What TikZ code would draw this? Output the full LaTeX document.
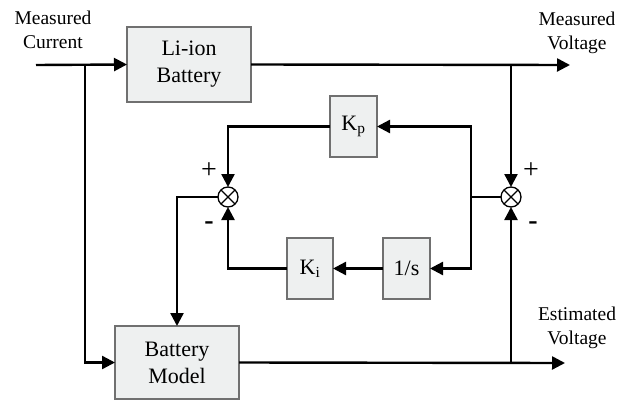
\documentclass[tikz,border=0pt]{standalone}
\usepackage{fontspec}
\setmainfont{Liberation Serif}
\usetikzlibrary{arrows.meta}
\definecolor{boxfill}{RGB}{238,240,240}
\definecolor{boxline}{RGB}{112,112,112}
\tikzset{
  blk/.style={draw=boxline, line width=1.4pt, fill=boxfill, inner sep=0pt, outer sep=0pt, align=center, font=\fontsize{22}{27}\selectfont},
  sumnode/.style={circle, draw=black, line width=1.3pt, fill=white, minimum size=20pt, inner sep=0pt, outer sep=0pt},
  wire/.style={line width=2.4pt, draw=black},
  arr/.style={wire, -{Triangle[length=13pt,width=13pt]}},
  lbl/.style={align=center, inner sep=0pt, font=\fontsize{19.5}{24}\selectfont},
  sgn/.style={inner sep=0pt, font=\fontsize{28}{28}\selectfont}
}
\begin{document}
\begin{tikzpicture}[x=1pt,y=-1pt]
\useasboundingbox (0,0) rectangle (618,401);
% blocks
\node[blk, minimum width=124pt, minimum height=75pt] (libat) at (189,64.5) {Li-ion\\Battery};
\node[blk, minimum width=124pt, minimum height=73pt] (bm) at (177,362.5) {Battery\\Model};
\node[blk, minimum width=47pt, minimum height=61pt] (kp) at (353.5,126.5) {K\textsubscript{p}};
\node[blk, minimum width=47pt, minimum height=61pt] (ones) at (406.5,268.5) {1/s};
\node[blk, minimum width=46pt, minimum height=61pt] (ki) at (310,268.5) {K\textsubscript{i}};
\node[sumnode] (sumL) at (228,197) {};
\node[sumnode] (sumR) at (511,197) {};
\foreach \s in {sumL,sumR}{
  \draw[line width=1.3pt] (\s.45) -- (\s.225) (\s.135) -- (\s.315);
}
% labels
\node[lbl] (lmc) at (53,30) {Measured\\Current};
\node[lbl] (lmv) at (577,33) {Measured\\Voltage};
\node[lbl] (lev) at (577,328) {Estimated\\Voltage};
\node[sgn] (p1) at (209,171) {+};
\node[sgn] (m1) at (209,226) {\textbf{-}};
\node[sgn] (p2) at (531,171) {+};
\node[sgn] (m2) at (533,226) {\textbf{-}};
% coordinates
\coordinate (in) at (36,65);
\coordinate (j1) at (85,65);
\coordinate (outV) at (570,65);
\coordinate (j2) at (511,65);
\coordinate (estV) at (565,363);
\coordinate (j3) at (511,363);
\coordinate (j4) at (471,197);
% connectors
\draw[arr] (in) -- (libat.west);
\draw[arr] (j1) |- (bm.west);
\draw[arr] (libat.east) -- (outV);
\draw[arr] (j2) -- (sumR.north);
\draw[arr] (bm.east) -- (estV);
\draw[arr] (j3) -- (sumR.south);
\draw[wire] (sumR.west) -- (j4);
\draw[arr] (j4) |- (kp.east);
\draw[arr] (j4) |- (ones.east);
\draw[arr] (kp.west) -| (sumL.north);
\draw[arr] (ones.west) -- (ki.east);
\draw[arr] (ki.west) -| (sumL.south);
\draw[arr] (sumL.west) -| (bm.north);
\end{tikzpicture}
\end{document}
